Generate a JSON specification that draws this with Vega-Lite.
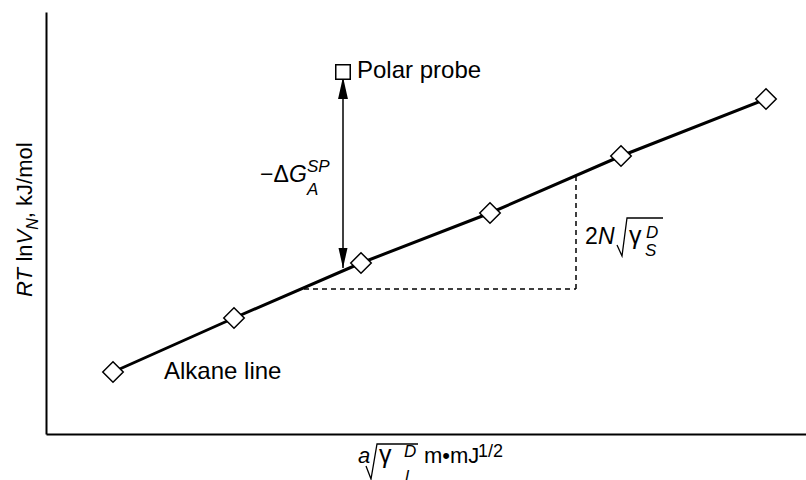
{
  "$schema": "https://vega.github.io/schema/vega-lite/v6.json",
  "width": 760,
  "height": 422,
  "autosize": {"type": "none"},
  "padding": {"left": 46, "top": 12, "right": 0, "bottom": 46},
  "background": "white",
  "config": {
    "view": {"stroke": null},
    "font": "Liberation Sans",
    "text": {"font": "Liberation Sans", "color": "black", "align": "left", "baseline": "alphabetic"}
  },
  "encoding": {
    "x": {"field": "x", "type": "quantitative", "scale": {"domain": [0, 760], "nice": false, "zero": false},
      "axis": {"ticks": false, "labels": false, "grid": false, "title": null, "domainColor": "black", "domainWidth": 2}},
    "y": {"field": "y", "type": "quantitative", "scale": {"domain": [0, 422], "nice": false, "zero": false},
      "axis": {"ticks": false, "labels": false, "grid": false, "title": null, "domainColor": "black", "domainWidth": 2}}
  },
  "layer": [
    {
      "data": {"values": [
        {"x": 258, "y": 145, "x2": 530, "y2": 145},
        {"x": 530, "y": 145, "x2": 530, "y2": 258}
      ]},
      "mark": {"type": "rule", "color": "black", "strokeWidth": 1.5, "strokeDash": [5, 4]},
      "encoding": {"x2": {"field": "x2"}, "y2": {"field": "y2"}}
    },
    {
      "data": {"values": [{"x": 297, "y": 166, "x2": 297, "y2": 357}]},
      "mark": {"type": "rule", "color": "black", "strokeWidth": 1.5},
      "encoding": {"x2": {"field": "x2"}, "y2": {"field": "y2"}}
    },
    {
      "data": {"values": [{"x": 297, "y": 357}]},
      "mark": {"type": "point", "shape": "M0,0L0.45,2L-0.45,2Z", "filled": true, "color": "black", "size": 484, "opacity": 1}
    },
    {
      "data": {"values": [{"x": 297, "y": 166}]},
      "mark": {"type": "point", "shape": "M0,0L0.45,-2L-0.45,-2Z", "filled": true, "color": "black", "size": 400, "opacity": 1}
    },
    {
      "data": {"values": [
        {"x": 67, "y": 62}, {"x": 188, "y": 116}, {"x": 315, "y": 171},
        {"x": 444, "y": 221}, {"x": 575, "y": 278}, {"x": 720, "y": 335}
      ]},
      "layer": [
        {"mark": {"type": "line", "color": "black", "strokeWidth": 3}},
        {"mark": {"type": "point", "shape": "diamond", "size": 420, "filled": true, "fill": "white", "stroke": "black", "strokeWidth": 1.5, "opacity": 1}}
      ]
    },
    {
      "data": {"values": [{"x": 297, "y": 362}]},
      "mark": {"type": "point", "shape": "square", "size": 210, "filled": true, "fill": "white", "stroke": "black", "strokeWidth": 1.5, "opacity": 1}
    },
    {
      "data": {"values": [
        {"g": "a", "o": 1, "x": 571, "y": 189}, {"g": "a", "o": 2, "x": 576, "y": 178},
        {"g": "a", "o": 3, "x": 581, "y": 216}, {"g": "a", "o": 4, "x": 617, "y": 216},
        {"g": "b", "o": 1, "x": 320, "y": -32}, {"g": "b", "o": 2, "x": 325, "y": -45},
        {"g": "b", "o": 3, "x": 331, "y": -10}, {"g": "b", "o": 4, "x": 372, "y": -10}
      ]},
      "mark": {"type": "line", "color": "black", "strokeWidth": 1.3},
      "encoding": {"detail": {"field": "g"}, "order": {"field": "o"}}
    },
    {
      "data": {"values": [
        {"x": 311, "y": 356, "t": "Polar probe"},
        {"x": 118, "y": 55, "t": "Alkane line"}
      ]},
      "mark": {"type": "text", "fontSize": 24},
      "encoding": {"text": {"field": "t"}}
    },
    {
      "data": {"values": [
        {"x": 214, "y": 252, "t": "−Δ"},
        {"x": 539, "y": 190, "t": "2"}
      ]},
      "mark": {"type": "text", "fontSize": 23},
      "encoding": {"text": {"field": "t"}}
    },
    {
      "data": {"values": [
        {"x": 583, "y": 190, "t": "γ"},
        {"x": 333, "y": -29, "t": "γ"}
      ]},
      "mark": {"type": "text", "fontSize": 25},
      "encoding": {"text": {"field": "t"}}
    },
    {
      "data": {"values": [
        {"x": 378, "y": -29, "t": "m•mJ"}
      ]},
      "mark": {"type": "text", "fontSize": 22},
      "encoding": {"text": {"field": "t"}}
    },
    {
      "data": {"values": [
        {"x": 243, "y": 252, "t": "G"},
        {"x": 552, "y": 190, "t": "N"}
      ]},
      "mark": {"type": "text", "fontSize": 23, "fontStyle": "italic"},
      "encoding": {"text": {"field": "t"}}
    },
    {
      "data": {"values": [
        {"x": 312, "y": -29, "t": "a"}
      ]},
      "mark": {"type": "text", "fontSize": 22, "fontStyle": "italic"},
      "encoding": {"text": {"field": "t"}}
    },
    {
      "data": {"values": [
        {"x": 261, "y": 262, "t": "SP"},
        {"x": 261, "y": 239, "t": "A"},
        {"x": 600, "y": 196, "t": "D"},
        {"x": 599, "y": 178, "t": "S"},
        {"x": 358, "y": -23, "t": "D"},
        {"x": 359, "y": -48, "t": "l"}
      ]},
      "mark": {"type": "text", "fontSize": 17, "fontStyle": "italic"},
      "encoding": {"text": {"field": "t"}}
    },
    {
      "data": {"values": [{"x": 432, "y": -23, "t": "1/2"}]},
      "mark": {"type": "text", "fontSize": 18},
      "encoding": {"text": {"field": "t"}}
    },
    {
      "data": {"values": [
        {"x": -14, "y": 137, "t": "RT"},
        {"x": -14, "y": 189.5, "t": "V"}
      ]},
      "mark": {"type": "text", "fontSize": 22, "fontStyle": "italic", "angle": 270},
      "encoding": {"text": {"field": "t"}}
    },
    {
      "data": {"values": [
        {"x": -14, "y": 172.4, "t": "ln"},
        {"x": -14, "y": 215.8, "t": ", kJ/mol"}
      ]},
      "mark": {"type": "text", "fontSize": 22, "angle": 270},
      "encoding": {"text": {"field": "t"}}
    },
    {
      "data": {"values": [{"x": -8, "y": 204.2, "t": "N"}]},
      "mark": {"type": "text", "fontSize": 16, "fontStyle": "italic", "angle": 270},
      "encoding": {"text": {"field": "t"}}
    }
  ]
}
